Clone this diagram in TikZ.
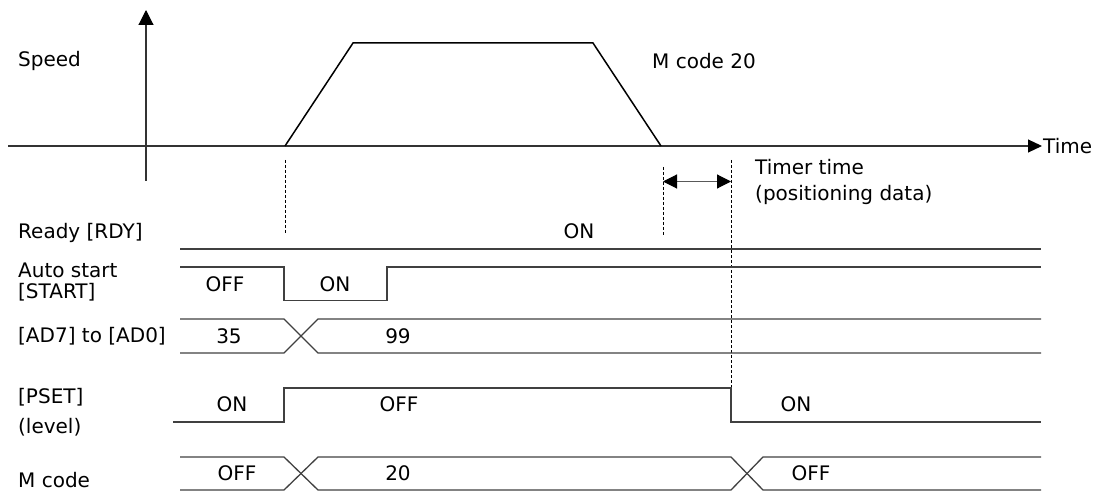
\documentclass[tikz,border=0pt]{standalone}
\usepackage{fontspec}
\setmainfont{DejaVu Sans}
\usetikzlibrary{arrows.meta}
\begin{document}
\begin{tikzpicture}[x=1pt,y=-1pt,
  lbl/.style={anchor=west,inner sep=0pt,font=\fontsize{20}{23}\selectfont},
  val/.style={inner sep=0pt,font=\fontsize{20}{23}\selectfont},
  sig/.style={line width=1.3pt,draw=black!75},
  axis/.style={line width=1.1pt,draw=black!80},
  prof/.style={line width=1.5pt,black},
  tip/.style={-{Triangle[length=15pt,width=15pt,color=black]}},
  guide/.style={line width=0.7pt,dashed,dash pattern=on 3pt off 2pt}]
\useasboundingbox (0,0) rectangle (1096,492);
% axes
\coordinate (yb) at (146,181);
\coordinate (yt) at (146,10);
\draw[axis,tip] (yb) -- (yt);
\coordinate (xl) at (8,146);
\coordinate (xr) at (1042,146);
\draw[axis,-{Triangle[length=14pt,width=13pt,color=black]}] (xl) -- (xr);
\node[lbl] (time) at (1043,146) {Time};
\node[lbl] (speed) at (18,61) {Speed};
% speed profile
\coordinate (p0) at (285,146);
\coordinate (p1) at (353,43);
\coordinate (p2) at (593,43);
\coordinate (p3) at (661,146);
\draw[prof] (p0) -- (p1) -- (p2) -- (p3);
\node[lbl] (mc20) at (652,61) {M code 20};
% guide lines
\coordinate (g1a) at (285,160); \coordinate (g1b) at (285,234);
\coordinate (g2a) at (663,167); \coordinate (g2b) at (663,235);
\coordinate (g3a) at (731,160); \coordinate (g3b) at (731,408);
\draw[guide] (g1a) -- (g1b);
\draw[guide] (g2a) -- (g2b);
\draw[guide] (g3a) -- (g3b);
\coordinate (da) at (663,181.5); \coordinate (db) at (731,181.5);
\draw[line width=1.1pt,draw=black!65,{Triangle[length=14pt,width=14pt,color=black]}-{Triangle[length=14pt,width=14pt,color=black]}] (da) -- (db);
\node[lbl] (tt1) at (755,167) {Timer time};
\node[lbl] (tt2) at (755,195) {(positioning data)};
% Ready
\node[lbl] (rdy) at (18,233) {Ready [RDY]};
\draw[sig] (180,249) coordinate (r0) -- (1041,249) coordinate (r1);
\node[val] (rdyon) at (579,231) {ON};
% Auto start
\node[lbl] (as1) at (18,270) {Auto start};
\node[lbl] (as2) at (18,292) {[START]};
\draw[sig] (180,267) -- (284,267) -- (284,300.5) -- (387,300.5) -- (387,267) -- (1041,267);
\node[val] (asoff) at (225,284) {OFF};
\node[val] (ason) at (335,284) {ON};
% AD
\node[lbl] (ad) at (18,336) {[AD7] to [AD0]};
\draw[sig] (180,319) -- (284,319) -- (318,353) -- (1041,353);
\draw[sig] (180,353) -- (284,353) -- (318,319) -- (1041,319);
\node[val] (ad35) at (229,336) {35};
\node[val] (ad99) at (398,336) {99};
% PSET
\node[lbl] (ps1) at (18,397) {[PSET]};
\node[lbl] (ps2) at (18,427) {(level)};
\draw[sig] (173,422) -- (284,422) -- (284,388) -- (731,388) -- (731,422) -- (1041,422);
\node[val] (pson) at (232,404) {ON};
\node[val] (psoff) at (399,404) {OFF};
\node[val] (pson2) at (796,404) {ON};
% M code
\node[lbl] (mc) at (18,480) {M code};
\draw[sig] (180,457) -- (284,457) -- (318,490) -- (731,490) -- (763,457) -- (1041,457);
\draw[sig] (180,490) -- (284,490) -- (318,457) -- (731,457) -- (763,490) -- (1041,490);
\node[val] (mcoff) at (237,473) {OFF};
\node[val] (mc20b) at (398,473) {20};
\node[val] (mcoff2) at (811,473) {OFF};
\end{tikzpicture}
\end{document}
